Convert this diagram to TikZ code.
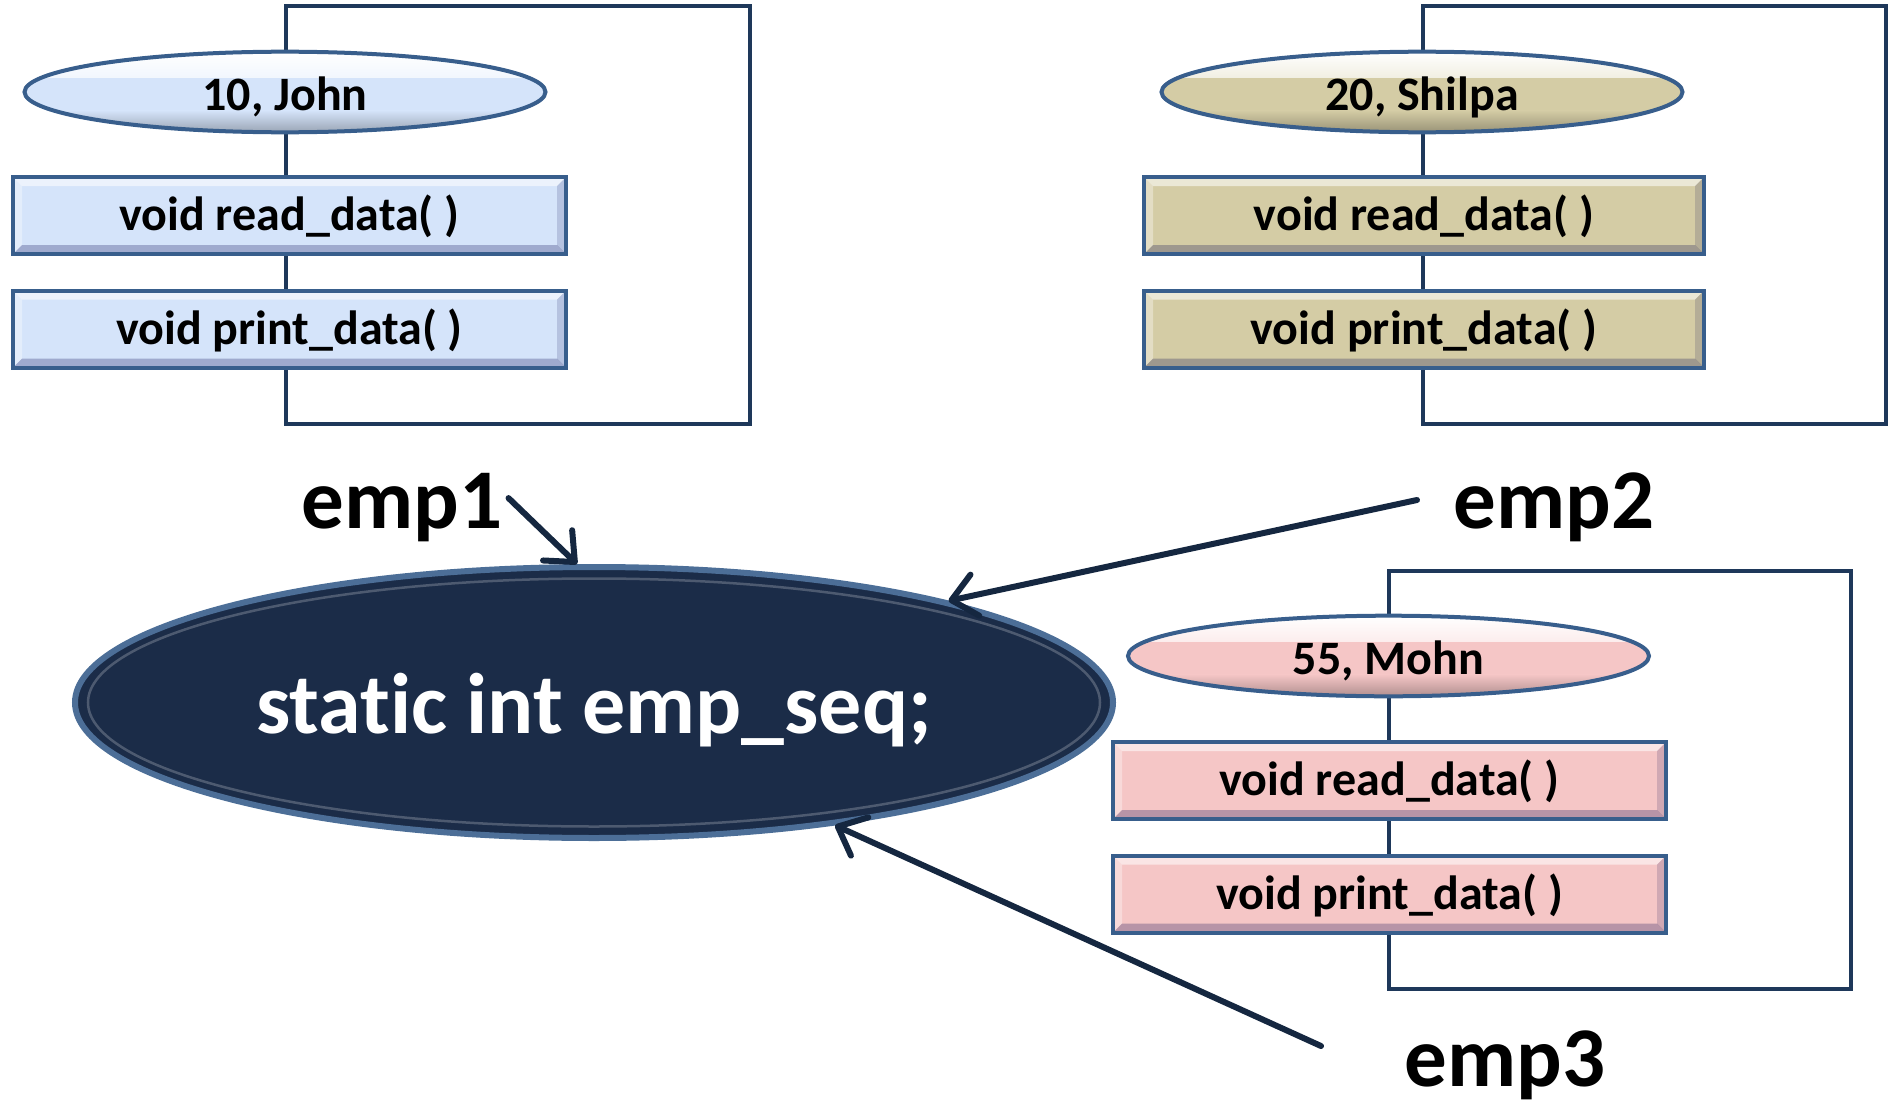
\documentclass[tikz,border=0pt]{standalone}
\usepackage{fontspec}
\setmainfont{Carlito}[Ligatures=NoCommon]
\usetikzlibrary{shapes.geometric,arrows.meta}

\definecolor{navy}{RGB}{27,44,72}
\definecolor{rim}{RGB}{56,94,140}
\definecolor{framec}{RGB}{30,56,90}
\definecolor{arrowc}{RGB}{21,39,64}
\definecolor{bluefill}{RGB}{213,228,250}
\definecolor{tanfill}{RGB}{212,204,165}
\definecolor{pinkfill}{RGB}{245,198,198}

\tikzset{
  objframe/.style={draw=framec, line width=4pt},
  objoval/.style={ellipse, draw=rim, line width=4pt, inner sep=0pt, fill=#1,
    minimum width=521pt, minimum height=73pt,
    font=\bfseries\fontsize{48}{52}\selectfont,
    text height=47pt, text depth=10pt,
    path picture={
      \shade[top color=white, bottom color=#1]
        (path picture bounding box.north west) rectangle ([yshift=-26pt]path picture bounding box.north east);
      \shade[top color=#1, bottom color=#1!72!black]
        ([yshift=22pt]path picture bounding box.south west) rectangle (path picture bounding box.south east);
    }},
  method/.style={rectangle, draw=rim, line width=4pt, fill=#1, inner sep=0pt,
    minimum width=553pt, minimum height=77pt,
    font=\bfseries\fontsize{48}{52}\selectfont,
    text height=41pt, text depth=11pt,
    path picture={
      \fill[white, opacity=.55]
        (path picture bounding box.north west) -- (path picture bounding box.north east)
        -- ([shift={(-9pt,-9pt)}]path picture bounding box.north east)
        -- ([shift={(9pt,-9pt)}]path picture bounding box.north west) -- cycle;
      \fill[white, opacity=.35]
        (path picture bounding box.north west) -- ([shift={(9pt,-9pt)}]path picture bounding box.north west)
        -- ([shift={(9pt,9pt)}]path picture bounding box.south west)
        -- (path picture bounding box.south west) -- cycle;
      \fill[black!70!blue, opacity=.25]
        (path picture bounding box.south west) -- (path picture bounding box.south east)
        -- ([shift={(-9pt,9pt)}]path picture bounding box.south east)
        -- ([shift={(9pt,9pt)}]path picture bounding box.south west) -- cycle;
      \fill[black!70!blue, opacity=.15]
        (path picture bounding box.north east) -- ([shift={(-9pt,-9pt)}]path picture bounding box.north east)
        -- ([shift={(-9pt,9pt)}]path picture bounding box.south east)
        -- (path picture bounding box.south east) -- cycle;
    }},
  seqoval/.style={ellipse, draw=rim!90!white, line width=6pt, fill=navy, inner sep=0pt,
    minimum width=1038pt, minimum height=271pt, text=white,
    font=\bfseries\fontsize{86}{94}\selectfont,
    text height=82pt, text depth=21pt},
  objname/.style={inner sep=0pt, anchor=base, font=\bfseries\fontsize{85}{92}\selectfont},
  ptr/.style={draw=arrowc, line width=6pt, line cap=round,
    -{Straight Barb[length=24pt, width=42pt, round]}}
}

\begin{document}
\begin{tikzpicture}[x=1pt, y=-1pt]
  \useasboundingbox (0,0) rectangle (1891,1108);

  % object outlines
  \draw[objframe] (286,6) rectangle (750,424);
  \draw[objframe] (1423,6) rectangle (1886,424);
  \draw[objframe] (1389,571) rectangle (1851,989);

  % object emp1
  \node[objoval=bluefill] (data1) at (285,92) {10, John};
  \node[method=bluefill] (read1) at (289.5,215.5) {void read\_data( )};
  \node[method=bluefill] (print1) at (289.5,329) {void print\_data( )};

  % object emp2
  \node[objoval=tanfill] (data2) at (1422,92) {20, Shilpa};
  \node[method=tanfill, minimum width=560pt] (read2) at (1424,215.5) {void read\_data( )};
  \node[method=tanfill, minimum width=560pt] (print2) at (1424,329) {void print\_data( )};

  % object emp3
  \node[objoval=pinkfill] (data3) at (1388.5,656) {55, Mohn};
  \node[method=pinkfill] (read3) at (1389.5,780.5) {void read\_data( )};
  \node[method=pinkfill] (print3) at (1389.5,894) {void print\_data( )};

  % shared static member
  \node[seqoval] (seq) at (594,702.5) {static int emp\_seq;};
  \draw[white, opacity=.22, line width=2.5pt] (seq.center) ellipse [x radius=506pt, y radius=124pt];

  % object names
  \node[objname] (emp1) at (402,528) {emp1};
  \node[objname] (emp2) at (1554,528) {emp2};
  \node[objname] (emp3) at (1505,1086) {emp3};

  \coordinate (e2from) at (1417,500);
  \coordinate (e3from) at (1321,1046);

  % references to the shared member
  \draw[ptr] ([shift={(6pt,9pt)}]emp1.east) -- (seq.97.9);
  \draw[ptr] (e2from) -- (seq.16.7);
  \draw[ptr] (e3from) -- (seq.-27.1);
\end{tikzpicture}
\end{document}
